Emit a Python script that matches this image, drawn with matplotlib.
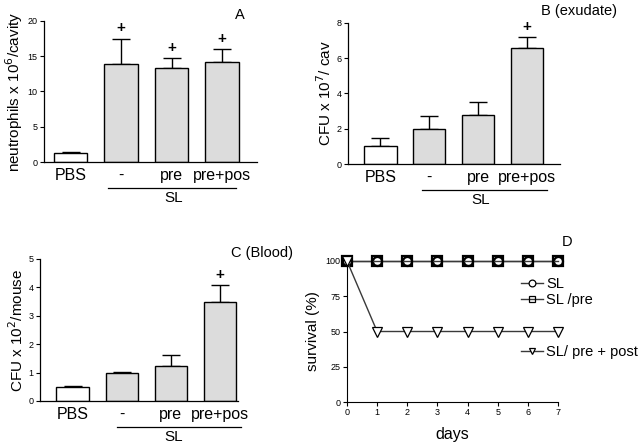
import numpy as np
import matplotlib
matplotlib.use("Agg")
import matplotlib.pyplot as plt
import matplotlib.transforms as mtransforms

plt.rcParams["font.family"] = ["Liberation Sans", "DejaVu Sans"]

# ── data ────────────────────────────────────────────────
groups = ["PBS", "-", "pre", "pre+pos"]

neutro_mean = [1.3, 13.9, 13.4, 14.2]
neutro_top = [1.45, 17.5, 14.7, 16.0]
neutro_sig = [False, True, True, True]

exud_mean = [1.0, 2.0, 2.8, 6.6]
exud_top = [1.5, 2.7, 3.5, 7.2]
exud_sig = [False, False, False, True]

blood_mean = [0.5, 1.0, 1.22, 3.48]
blood_top = [0.52, 1.02, 1.63, 4.07]
blood_sig = [False, False, False, True]

days = [0, 1, 2, 3, 4, 5, 6, 7]
surv_sl = [100, 100, 100, 100, 100, 100, 100, 100]
surv_sl_pre = [100, 100, 100, 100, 100, 100, 100, 100]
surv_sl_prepost = [100, 50, 50, 50, 50, 50, 50, 50]

W, H = 640, 446
fig = plt.figure(figsize=(W / 100, H / 100), dpi=100)


def px_axes(left, top, right, bottom):
    return fig.add_axes([left / W, 1 - bottom / H, (right - left) / W, (bottom - top) / H])


def bar_panel(ax, mean, top, sig, ymax, ystep, xlim, sl_span, ylabel):
    x = np.arange(len(groups))
    faces = ["white"] + ["#dcdcdc"] * (len(groups) - 1)
    ax.bar(x, mean, width=0.66, color=faces, edgecolor="black", linewidth=1.0, zorder=2)
    up = np.array(top) - np.array(mean)
    ax.errorbar(x, mean, yerr=[np.zeros_like(up), up], fmt="none", ecolor="black",
                elinewidth=1.0, capsize=6.5, capthick=1.0, zorder=1)
    for xi, t, s in zip(x, top, sig):
        if s:
            ax.text(xi, t + ymax * 0.025, "+", ha="center", va="bottom",
                    fontsize=11, fontweight="bold")
    ax.set_xlim(*xlim)
    ax.set_ylim(0, ymax)
    ax.set_yticks(np.arange(0, ymax + 0.01, ystep))
    ax.set_xticks(x)
    ax.set_xticklabels(groups, fontsize=11.5)
    ax.tick_params(axis="x", length=0, pad=4)
    ax.tick_params(axis="y", labelsize=6.5, length=3, width=0.8, pad=1.5)
    for s in ["top", "right"]:
        ax.spines[s].set_visible(False)
    ax.spines["left"].set_linewidth(0.9)
    ax.spines["bottom"].set_linewidth(0.9)
    ax.set_ylabel(ylabel, fontsize=11, labelpad=2)
    trans = mtransforms.blended_transform_factory(ax.transData, ax.transAxes)
    ax.plot(sl_span, [-0.185, -0.185], color="black", lw=0.9, transform=trans, clip_on=False)
    ax.text(2.05, -0.205, "SL", ha="center", va="top", fontsize=11, transform=trans)


# A
axA = px_axes(44, 21, 257, 162)
bar_panel(axA, neutro_mean, neutro_top, neutro_sig, 20, 5, (-0.525, 3.69), [0.75, 3.28],
          "neutrophils x 10$^{6}$/cavity")
fig.text(240 / W, 1 - 15 / H, "A", ha="center", va="center", fontsize=10.5)

# B
axB = px_axes(348, 23, 560, 164)
bar_panel(axB, exud_mean, exud_top, exud_sig, 8, 2, (-0.666, 3.68), [0.85, 3.41],
          "CFU x 10$^{7}$/ cav")
fig.text(579 / W, 1 - 11 / H, "B (exudate)", ha="center", va="center", fontsize=10.5)

# C
axC = px_axes(40, 259, 238, 401)
bar_panel(axC, blood_mean, blood_top, blood_sig, 5, 1, (-0.666, 3.37), [0.91, 3.43],
          "CFU x 10$^{2}$/mouse")
fig.text(262 / W, 1 - 253 / H, "C (Blood)", ha="center", va="center", fontsize=10.5)

# D
axD = px_axes(347, 261, 558, 402)
lc = "#3a3a3a"
l1, = axD.plot(days, surv_sl, color=lc, lw=1.0, marker="o", ms=6.5, mfc="white",
               mec="black", mew=1.6, clip_on=False, zorder=3)
l2, = axD.plot(days, surv_sl_pre, color=lc, lw=1.0, marker="s", ms=6.5, mfc="none",
               mec="black", mew=1.6, clip_on=False, zorder=3)
l3, = axD.plot(days, surv_sl_prepost, color=lc, lw=1.0, marker="v", ms=6.5, mfc="white",
               mec="black", mew=0.9, clip_on=False, zorder=3)
axD.set_xlim(0, 7)
axD.set_ylim(0, 100)
axD.set_xticks(days)
axD.set_yticks([0, 25, 50, 75, 100])
axD.tick_params(labelsize=6.5, length=3, width=0.8, pad=1.5)
for s in ["top", "right"]:
    axD.spines[s].set_visible(False)
axD.set_xlabel("days", fontsize=11.5, labelpad=7)
axD.set_ylabel("survival (%)", fontsize=11, labelpad=4)
fig.text(567 / W, 1 - 242 / H, "D", ha="center", va="center", fontsize=10.5)

leg1 = fig.legend([l1, l2], ["SL", "SL /pre"], loc="upper left",
                  bbox_to_anchor=(514 / W, 1 - 270 / H), frameon=False, fontsize=10.5,
                  handlelength=1.5, handletextpad=0.2, labelspacing=0.15,
                  borderpad=0, markerscale=0.75)
for h in leg1.legend_handles:
    h.set_markeredgewidth(0.9)
leg2 = fig.legend([l3], ["SL/ pre + post"], loc="upper left",
                  bbox_to_anchor=(514 / W, 1 - 338 / H), frameon=False, fontsize=10.5,
                  handlelength=1.5, handletextpad=0.2, borderpad=0, markerscale=0.75)

fig.savefig("out.png", dpi=100)
